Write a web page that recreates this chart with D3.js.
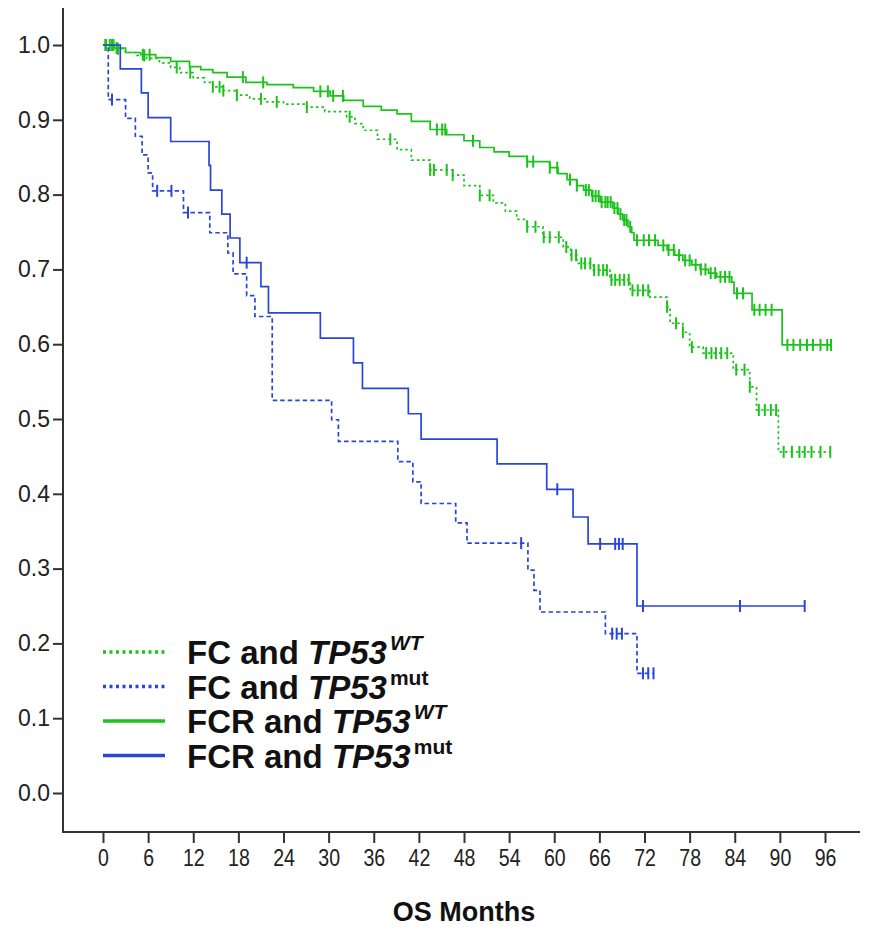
<!DOCTYPE html>
<html>
<head>
<meta charset="utf-8">
<script src="https://cdn.jsdelivr.net/npm/d3@7"></script>
<style>
  body { margin: 0; background: #fff; }
  text { font-family: "Liberation Sans", Arial, sans-serif; }
</style>
</head>
<body>
<svg id="chart" width="871" height="927"></svg>
<script>
// x ticks (months) and y ticks (cumulative survival)
var monthTicks = [0, 6, 12, 18, 24, 30, 36, 42, 48, 54, 60, 66, 72, 78, 84, 90, 96];
var survTicks = [0.0, 0.1, 0.2, 0.3, 0.4, 0.5, 0.6, 0.7, 0.8, 0.9, 1.0];

// FC and TP53 WT (green dotted)
var fcWtTimes = [0, 1.5, 3, 4.5, 5.8, 7.5, 9, 10.2, 12, 13.5, 14.6, 16, 17.8, 19.5, 21.8, 24, 27.1, 29.5, 32.4, 33.5, 34.6, 36.5, 39.1, 41, 43.5, 46.5, 48, 50.1, 51.9, 53.5, 55, 56.4, 58.5, 61.2, 62.2, 63, 65.2, 67.4, 70.1, 72.7, 75, 75.4, 77.1, 78, 79.8, 83.8, 86, 86.9, 89.8];
var fcWtSurv  = [1.0, 0.995, 0.99, 0.986, 0.982, 0.976, 0.97, 0.963, 0.956, 0.95, 0.944, 0.939, 0.933, 0.928, 0.924, 0.921, 0.917, 0.911, 0.904, 0.895, 0.886, 0.874, 0.86, 0.846, 0.833, 0.826, 0.812, 0.799, 0.789, 0.778, 0.767, 0.757, 0.743, 0.73, 0.719, 0.708, 0.699, 0.686, 0.672, 0.663, 0.65, 0.628, 0.616, 0.596, 0.588, 0.566, 0.543, 0.512, 0.456];
var fcWtEnd = 96.7;
var fcWtCens = [0.4, 0.9, 1.4, 2.0, 5.5, 9.8, 11.6, 14.6, 15.5, 16.0, 17.8, 21.0, 23.1, 27.1, 32.8, 38.2, 43.5, 44.0, 45.7, 46.5, 50.1, 51.4, 56.4, 57.5, 58.6, 59.4, 60.6, 61.6, 62.3, 62.9, 63.6, 64.1, 64.8, 65.3, 65.9, 66.5, 67.0, 67.6, 68.1, 68.7, 69.3, 69.9, 70.4, 71.1, 71.8, 72.5, 75.0, 76.2, 77.1, 78.3, 80.2, 80.9, 81.5, 82.2, 83.0, 84.2, 85.3, 86.0, 87.2, 88.0, 88.8, 89.5, 90.5, 91.6, 92.6, 93.3, 94.2, 95.4, 96.7];

// FC and TP53 mut (blue dotted)
var fcMutTimes = [0, 0.7, 3.0, 4.3, 5.2, 6.0, 6.6, 10.7, 14.2, 16.6, 17.3, 19.1, 20.2, 22.5, 30.4, 31.3, 39.2, 41.2, 42.3, 46.9, 48.4, 56.5, 57.3, 58.1, 66.8, 71.0];
var fcMutSurv  = [1.0, 0.927, 0.902, 0.878, 0.853, 0.829, 0.805, 0.776, 0.749, 0.722, 0.694, 0.665, 0.637, 0.525, 0.499, 0.470, 0.443, 0.416, 0.387, 0.361, 0.334, 0.298, 0.271, 0.242, 0.213, 0.160];
var fcMutEnd = 73.2;
var fcMutCens = [1.2, 7.2, 9.1, 11.3, 55.6, 67.7, 68.3, 69.0, 71.8, 72.5, 73.2];

// FCR and TP53 WT (green solid)
var fcrWtTimes = [0, 1.5, 3, 5, 7, 9, 11.5, 13, 14.6, 16.5, 19, 21.8, 25.3, 28, 30.2, 32, 34.6, 37, 39.1, 41, 43.5, 45.7, 48, 50.1, 52, 54, 56.4, 59.4, 60.5, 61.7, 63, 63.9, 65, 66.1, 67.8, 68.5, 69.1, 69.8, 70.3, 70.6, 73.8, 75, 76, 77.1, 78.3, 79.4, 80.5, 81.6, 83.6, 83.9, 86.3, 90.3];
var fcrWtSurv  = [1.0, 0.996, 0.99, 0.987, 0.983, 0.978, 0.971, 0.967, 0.963, 0.957, 0.95, 0.947, 0.943, 0.938, 0.932, 0.926, 0.918, 0.913, 0.908, 0.898, 0.887, 0.88, 0.872, 0.863, 0.857, 0.851, 0.844, 0.836, 0.828, 0.82, 0.812, 0.806, 0.798, 0.79, 0.782, 0.774, 0.766, 0.757, 0.749, 0.739, 0.732, 0.726, 0.719, 0.712, 0.706, 0.70, 0.695, 0.69, 0.683, 0.668, 0.646, 0.599];
var fcrWtEnd = 96.8;
var fcrWtCens = [0.3, 1.2, 1.8, 5.3, 6.2, 18.6, 21.3, 28.9, 29.9, 30.6, 31.9, 44.4, 45.1, 45.5, 49.2, 56.4, 57.2, 59.4, 60.4, 62.1, 63.0, 64.2, 64.6, 65.1, 65.5, 65.9, 66.3, 66.8, 67.1, 67.5, 68.0, 68.4, 68.8, 69.3, 69.6, 70.1, 71.0, 71.9, 72.6, 73.4, 74.5, 75.2, 75.9, 76.6, 77.4, 78.0, 78.8, 79.5, 80.1, 80.8, 81.4, 82.1, 82.7, 83.3, 84.3, 85.1, 86.6, 87.3, 88.1, 88.9, 91.0, 91.8, 92.7, 93.6, 94.4, 95.4, 96.3, 96.8];

// FCR and TP53 mut (blue solid)
var fcrMutTimes = [0, 2.3, 5.1, 6.0, 9.0, 14.1, 14.3, 15.8, 16.9, 18.2, 21.0, 22.0, 28.9, 33.3, 34.5, 40.6, 42.3, 52.4, 59.0, 62.5, 64.5, 71.0];
var fcrMutSurv  = [1.0, 0.968, 0.936, 0.903, 0.871, 0.839, 0.806, 0.774, 0.742, 0.709, 0.677, 0.642, 0.608, 0.575, 0.541, 0.507, 0.473, 0.440, 0.406, 0.369, 0.333, 0.250];
var fcrMutEnd = 93.3;
var fcrMutCens = [19.1, 60.4, 66.1, 68.1, 68.6, 69.1, 71.8, 84.7, 93.3];

var green = "#1cc31c", blue = "#2a46d8";

var series = [
  {name: "FC and ", gene: "TP53", sup: "WT", supItalic: true, color: green, dash: "2.5,3", times: fcWtTimes, surv: fcWtSurv, end: fcWtEnd, cens: fcWtCens},
  {name: "FC and ", gene: "TP53", sup: "mut", supItalic: false, color: blue, dash: "4.5,3", times: fcMutTimes, surv: fcMutSurv, end: fcMutEnd, cens: fcMutCens},
  {name: "FCR and ", gene: "TP53", sup: "WT", supItalic: true, color: green, dash: null, times: fcrWtTimes, surv: fcrWtSurv, end: fcrWtEnd, cens: fcrWtCens},
  {name: "FCR and ", gene: "TP53", sup: "mut", supItalic: false, color: blue, dash: null, times: fcrMutTimes, surv: fcrMutSurv, end: fcrMutEnd, cens: fcrMutCens}
];

var svg = d3.select("#chart");

var x = d3.scaleLinear().domain([0, 96]).range([103, 825]);
var y = d3.scaleLinear().domain([0, 1]).range([793, 45]);

var axisX0 = 63, axisY0 = 832;

// axes
var yAxis = svg.append("g").attr("transform", "translate(" + axisX0 + ",0)")
  .call(d3.axisLeft(y).tickValues(survTicks).tickFormat(d3.format(".1f")).tickSize(10).tickPadding(3));
yAxis.select(".domain").remove();
yAxis.selectAll("text").style("font-size", "23px").attr("fill", "#222");
yAxis.selectAll("line").attr("stroke", "#333").attr("stroke-width", 2);

var xAxis = svg.append("g").attr("transform", "translate(0," + axisY0 + ")")
  .call(d3.axisBottom(x).tickValues(monthTicks).tickSize(11).tickPadding(7));
xAxis.select(".domain").remove();
xAxis.selectAll("line").attr("stroke", "#333").attr("stroke-width", 2);
// narrow-looking tick labels: squeeze horizontally around the tick centre
xAxis.selectAll(".tick text").style("font-size", "23px").attr("fill", "#222")
  .attr("transform", "scale(0.85,1)");

svg.append("line").attr("x1", axisX0).attr("x2", axisX0).attr("y1", 8).attr("y2", axisY0)
  .attr("stroke", "#333").attr("stroke-width", 2);
svg.append("line").attr("x1", axisX0 - 1).attr("x2", 860).attr("y1", axisY0).attr("y2", axisY0)
  .attr("stroke", "#333").attr("stroke-width", 2);

svg.append("text").attr("x", 464).attr("y", 921).attr("text-anchor", "middle")
  .style("font-size", "27px").style("font-weight", "bold").attr("fill", "#111")
  .text("OS Months");

// curves
var line = d3.line()
  .x(function(d) { return x(d[0]); })
  .y(function(d) { return y(d[1]); })
  .curve(d3.curveStepAfter);

function survAt(s, t) {
  var v = s.surv[0];
  for (var i = 0; i < s.times.length; i++) { if (s.times[i] <= t) v = s.surv[i]; }
  return v;
}

series.forEach(function(s) {
  var pts = s.times.map(function(t, i) { return [t, s.surv[i]]; });
  pts.push([s.end, s.surv[s.surv.length - 1]]);
  var g = svg.append("g");
  g.append("path").datum(pts).attr("d", line)
    .attr("fill", "none").attr("stroke", s.color).attr("stroke-width", 1.7)
    .attr("stroke-dasharray", s.dash);
  g.selectAll(".cens").data(s.cens).enter().append("line").attr("class", "cens")
    .attr("x1", function(t) { return x(t); }).attr("x2", function(t) { return x(t); })
    .attr("y1", function(t) { return y(survAt(s, t)) - 6; })
    .attr("y2", function(t) { return y(survAt(s, t)) + 6; })
    .attr("stroke", s.color).attr("stroke-width", 2);
});

// legend
var legendRows = [652, 686.5, 721, 755.5];
var legend = svg.append("g");
var item = legend.selectAll(".leg").data(series).enter().append("g").attr("class", "leg");
item.append("line").attr("x1", 103).attr("x2", 165)
  .attr("y1", function(d, i) { return legendRows[i]; }).attr("y2", function(d, i) { return legendRows[i]; })
  .attr("stroke", function(d) { return d.color; }).attr("stroke-width", 3.5)
  .attr("stroke-dasharray", function(d) { return d.dash ? "3,3.5" : null; });
var lt = item.append("text").attr("x", 187).attr("y", function(d, i) { return legendRows[i] + 12; })
  .style("font-size", "33px").style("font-weight", "bold").attr("fill", "#111");
lt.append("tspan").text(function(d) { return d.name; });
lt.append("tspan").style("font-style", "italic").text(function(d) { return d.gene; });
// superscripts as their own texts, placed after the measured main text
item.append("text")
  .attr("x", function(d, i) { return 187 + lt.nodes()[i].getComputedTextLength() + 3; })
  .attr("y", function(d, i) { return legendRows[i] - 2; })
  .style("font-size", "21px").style("font-weight", "bold").attr("fill", "#111")
  .style("font-style", function(d) { return d.supItalic ? "italic" : "normal"; })
  .text(function(d) { return d.sup; });
</script>
</body>
</html>
